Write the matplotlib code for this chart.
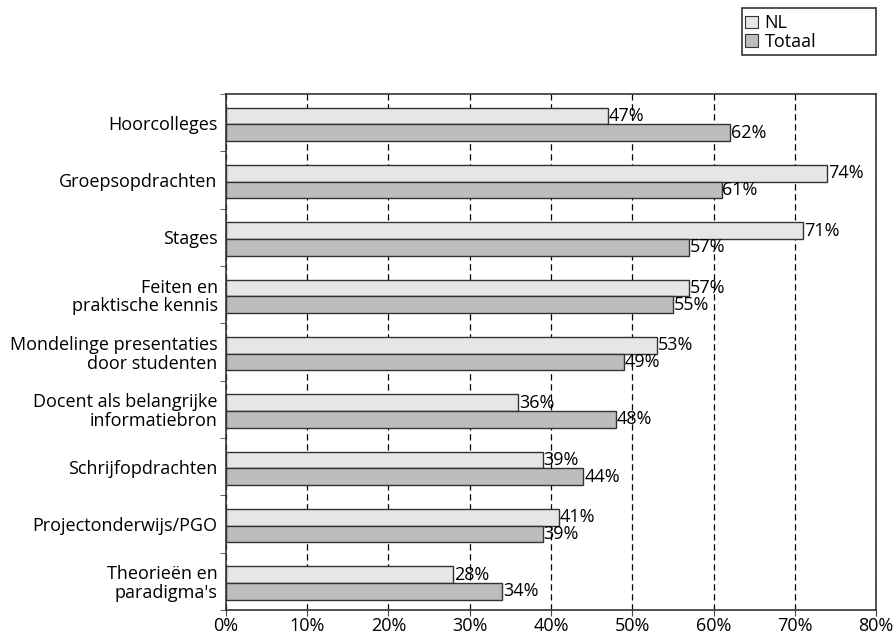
import numpy as np
import matplotlib as mpl
mpl.use('Agg')
import matplotlib.pyplot as plt
from matplotlib.patches import Rectangle
from matplotlib.ticker import MultipleLocator, PercentFormatter

plt.rcParams['font.family'] = ['Open Sans', 'DejaVu Sans']

categories = ['Hoorcolleges', 'Groepsopdrachten', 'Stages',
              'Feiten en\npraktische kennis',
              'Mondelinge presentaties\ndoor studenten',
              'Docent als belangrijke\ninformatiebron',
              'Schrijfopdrachten', 'Projectonderwijs/PGO',
              "Theorieën en\nparadigma's"]
nl = [47, 74, 71, 57, 53, 36, 39, 41, 28]
totaal = [62, 61, 57, 55, 49, 48, 44, 39, 34]

FS = 13
bar_h = 0.29

fig = plt.figure(figsize=(8.96, 6.37), dpi=100)
ax = fig.add_axes([0.2522, 0.0424, 0.7255, 0.81])

y = np.arange(len(categories))
ax.barh(y - bar_h / 2 + 0.03, nl, height=bar_h, color='#e6e6e8',
        edgecolor='#333333', linewidth=1, label='NL', zorder=3)
ax.barh(y + bar_h / 2 + 0.03, totaal, height=bar_h, color='#bdbdc0',
        edgecolor='#333333', linewidth=1, label='Totaal', zorder=3)

for i in range(len(categories)):
    ax.text(nl[i] + 0.1, y[i] - bar_h / 2 + 0.03, f'{nl[i]}%',
            va='center', ha='left', fontsize=FS, zorder=4)
    ax.text(totaal[i] + 0.1, y[i] + bar_h / 2 + 0.03, f'{totaal[i]}%',
            va='center', ha='left', fontsize=FS, zorder=4)

ax.set_xlim(0, 80)
ax.set_ylim(len(categories) - 0.5, -0.5)
ax.xaxis.set_major_locator(MultipleLocator(10))
ax.xaxis.set_major_formatter(PercentFormatter(decimals=0))
ax.set_yticks(y)
ax.set_yticklabels(categories, fontsize=FS, ha='right', linespacing=1.05)
ax.set_yticks(np.arange(-0.5, len(categories)), minor=True)
ax.tick_params(axis='y', which='major', length=0, pad=6)
ax.tick_params(axis='y', which='minor', length=4, direction='out',
               color='#444444')
ax.tick_params(axis='x', labelsize=FS, length=4, direction='out',
               color='#444444', pad=1)

ax.grid(axis='x', color='black', linestyle=(0, (5, 3)), linewidth=0.9,
        zorder=1)
for s in ax.spines.values():
    s.set_color('#333333')
    s.set_linewidth(1.2)

# legend sits in a fixed-size box above the plot
fig.patches.append(Rectangle((0.828, 0.914), 0.15, 0.073,
                             transform=fig.transFigure, fill=False,
                             edgecolor='#333333', linewidth=1.2))
leg = fig.legend(loc='upper left', bbox_to_anchor=(0.829, 0.982),
                 fontsize=FS, frameon=False,
                 handlelength=0.7, handleheight=0.7, handletextpad=0.35,
                 borderpad=0.15, labelspacing=0.05, borderaxespad=0)
for h in leg.legend_handles:
    h.set_linewidth(0.8)

fig.savefig('out.png', dpi=100)
